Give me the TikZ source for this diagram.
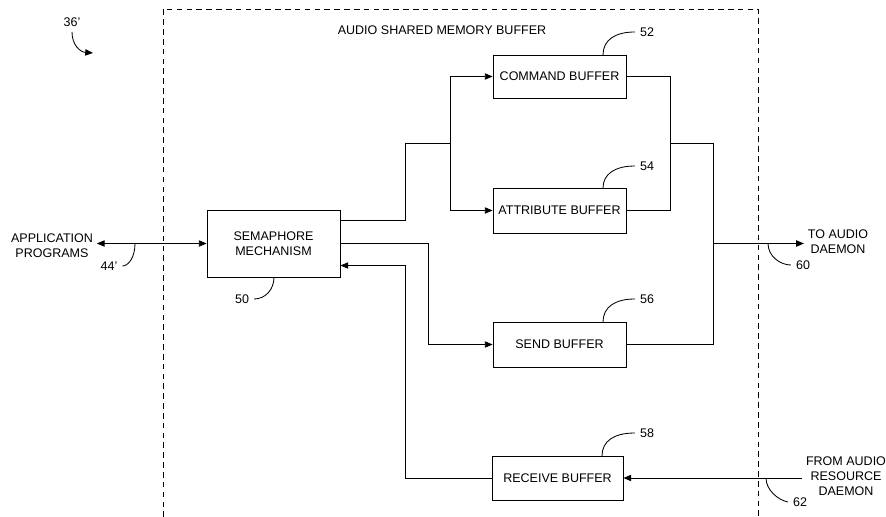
\documentclass[tikz,border=0pt]{standalone}
\usepackage{fontspec}
\setmainfont{Liberation Sans}
\usetikzlibrary{arrows.meta}
\tikzset{
	arr/.style={-{Triangle[length=5.5pt,width=4.5pt]}},
	dblarr/.style={{Triangle[length=5.5pt,width=4.5pt]}-{Triangle[length=5.5pt,width=4.5pt]}},
	buf/.style={draw, inner sep=0pt, minimum width=3.325cm, minimum height=1.1cm},
	lbl/.style={inner sep=2.5pt, align=center},
}

\begin{document}
\begin{tikzpicture}[x=0.025cm, y=-0.025cm, line width=0.6pt, every node/.style={font=\fontsize{8.9}{10.6}\selectfont}]
		%%%%% START %%%%%
		\useasboundingbox (0,0) rectangle (886,517);
		
		% shared memory region
		\draw[dash pattern=on 4pt off 3pt] (163,517) -- (163,9) -- (758,9) -- (758,517);
		\node (title) at (442,30) {AUDIO SHARED MEMORY BUFFER};
		
		\node (n36) at (72,22) {36'};
		\draw[arr] (72,32) .. controls (72,45) and (80,52) .. (93,53);
		
		% boxes
		\node[buf, minimum height=1.675cm, align=center] (sem) at (273.5,243.5) {SEMAPHORE\\MECHANISM};
		\node[buf, minimum height=1.075cm] (cmd) at (559.5,76.5) {COMMAND BUFFER};
		\node[buf, minimum height=1.125cm] (attr) at (559.5,210.5) {ATTRIBUTE BUFFER};
		\node[buf, minimum height=1.125cm] (send) at (559.5,344.5) {SEND BUFFER};
		\node[buf, minimum width=3.275cm] (recv) at (557.5,478) {RECEIVE BUFFER};
		
		\node[lbl] (app) at (52,245.5) {APPLICATION\\PROGRAMS};
		\node[lbl] (toaudio) at (838,241.5) {TO AUDIO\\DAEMON};
		\node[lbl] (fromaudio) at (846,476) {FROM AUDIO\\RESOURCE\\DAEMON};
		
		% connectors
		\draw[dblarr] (app.east |- sem.west) -- (sem.west);
		
		\coordinate (split) at (450,143);
		\draw (sem.east |- 0,220) -| (405,143) -- (split);
		\draw[arr] (split) |- (cmd.west);
		\draw[arr] (split) |- (attr.west);
		
		\coordinate (merge) at (670,143);
		\coordinate (out) at (713,243.5);
		\draw (cmd.east) -| (merge);
		\draw (attr.east) -| (merge);
		\draw (merge) -| (out);
		\draw (send.east) -| (out);
		\draw[arr] (out) -- (toaudio.west |- out);
		
		\draw[arr] (sem.east) -| (428,344.5) -- (send.west);
		\draw[arr] (recv.west) -| (405,265.5) -- (sem.east |- 0,265.5);
		\draw[arr] (fromaudio.west |- recv.east) -- (recv.east);
		
		% reference numerals
		\node (n44) at (109,266) {44'};
		\draw (135,243.5) .. controls (135,258) and (128,266) .. (n44.east);
		\node (n50) at (242,299) {50};
		\draw (274,277) .. controls (274,290) and (265,299) .. (n50.east);
		\node (n60) at (803,265) {60};
		\draw (768,243.5) .. controls (768,256) and (780,265) .. (n60.west);
		\node (n62) at (800,502) {62};
		\draw (766,478) .. controls (766,490) and (778,500) .. (n62.west);
		
		\node (n52) at (647,32) {52};
		\draw (603,55) .. controls (603,40) and (615,32) .. (n52.west);
		\node (n54) at (647,166) {54};
		\draw (603,188) .. controls (603,174) and (615,166) .. (n54.west);
		\node (n56) at (647,299) {56};
		\draw (603,322) .. controls (603,307) and (615,299) .. (n56.west);
		\node (n58) at (647,433) {58};
		\draw (602,456) .. controls (602,441) and (614,433) .. (n58.west);
		
		%%%%% END %%%%%
	\end{tikzpicture}
\end{document}
